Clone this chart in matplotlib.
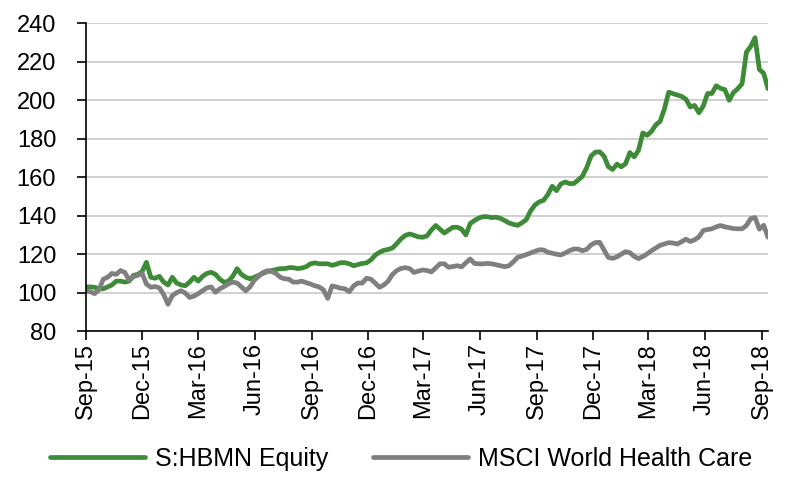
import numpy as np
import pandas as pd
import matplotlib
matplotlib.use("Agg")
import matplotlib.pyplot as plt
import matplotlib.dates as mdates

plt.rcParams["font.family"] = ["Liberation Sans", "DejaVu Sans"]

# weekly observations, indexed to 100
start_date = "2015-09-15"
hbmn = [
    103, 103, 102.8, 102, 102, 103, 104, 106, 106, 105.5,
    106, 109, 109.5, 111, 115.8, 108, 107.5, 108.5, 105.5, 104,
    108, 105, 104, 103.6, 105.5, 108, 106, 108.5, 110, 110.6,
    109.5, 107, 105.4, 106, 108.5, 112.5, 109.5, 108, 107.2, 108,
    109, 110, 111, 111.5, 112, 112.5, 112.5, 113, 113, 112.5,
    112.8, 113.5, 115, 115.5, 115, 115, 115, 114.2, 114.8, 115.6,
    115.6, 115, 114, 114.6, 115.2, 115.5, 117, 119.5, 121, 122,
    122.5, 123.2, 125.5, 128, 129.8, 130.5, 129.8, 129, 128.8, 129.5,
    132.5, 134.9, 133, 131, 132.5, 134, 134, 133, 130, 135.9,
    137.5, 138.8, 139.5, 139.5, 139, 139.2, 138.6, 137.5, 136.2, 135.5,
    135, 136.3, 138, 142.5, 145.5, 147.2, 148, 151, 155.3, 153,
    156.5, 157.5, 156.7, 156.7, 158.5, 160.5, 165, 171, 173, 173.2,
    171, 165.5, 164, 166.8, 165.4, 167, 172.8, 170.6, 174, 183,
    181.8, 183.8, 187.2, 189, 195.5, 204.2, 203.4, 202.7, 202, 200.5,
    196.5, 197.3, 193.5, 197, 203.5, 203.5, 207.5, 206.2, 205.5, 200,
    204, 206, 208.6, 225, 228, 232.5, 216, 214, 206,
]
msci_hc = [
    101, 100.5, 99.5, 101.5, 107, 108, 110, 109.5, 111.5, 110.5,
    106.5, 108.3, 109, 110, 104.5, 102.8, 103.2, 102.5, 99, 94,
    98.5, 100, 101, 99.8, 97.5, 98.2, 99.5, 101, 102.5, 103,
    100.2, 102, 103.2, 104.6, 105.5, 105, 103, 101, 103, 106.5,
    108.5, 110.5, 111.4, 111, 110, 108, 107.2, 107, 105.5, 105.5,
    106, 105.2, 104.5, 103.6, 103, 101.5, 97, 103.5, 103, 102.3,
    102, 100.5, 103.5, 105, 105, 107.5, 107, 105, 102.8, 104,
    106, 109.5, 111.5, 112.6, 113, 112.5, 110.5, 111.2, 111.8, 111.5,
    110.8, 112.8, 115, 115, 113.2, 113.6, 114, 113.4, 115.5, 117.5,
    115.2, 115, 115, 115.2, 115, 114.5, 114, 113.5, 114, 116,
    118.4, 119, 119.8, 120.6, 121.5, 122.3, 122.2, 121, 120.5, 120,
    119.6, 120.6, 121.8, 122.7, 122.7, 121.8, 122.5, 124.8, 126, 126.2,
    122.3, 118.3, 117.8, 118.6, 120, 121.3, 120.8, 118.8, 117.7, 118.8,
    120.2, 121.8, 123.2, 124.6, 125.3, 126, 125.8, 125.3, 126.5, 127.8,
    126.6, 127.5, 129, 132.3, 132.8, 133.2, 134.2, 134.9, 134.2, 133.8,
    133.3, 133.2, 133.2, 134.9, 138.5, 139, 133, 135, 128.8,
]
dates = pd.date_range(start_date, periods=len(hbmn), freq="7D")
tick_dates = pd.date_range("2015-09-01", "2018-09-01", freq="3MS") + pd.Timedelta(days=14)

fig, ax = plt.subplots(figsize=(8, 4.95), dpi=100)
fig.subplots_adjust(left=0.1075, right=0.96, bottom=0.331, top=0.953)

ax.plot(dates, hbmn, color="#3d8b37", lw=3.4, label="S:HBMN Equity", solid_capstyle="round")
ax.plot(dates, msci_hc, color="#7f7f7f", lw=3.4, label="MSCI World Health Care", solid_capstyle="round")

ax.set_ylim(80, 240)
ax.set_yticks(np.arange(80, 241, 20))
ax.set_xlim(dates[0], dates[-1])
ax.set_xticks(tick_dates)
ax.xaxis.set_major_formatter(mdates.DateFormatter("%b-%y"))
ax.grid(axis="y", color="#c8c8c8", lw=1.2)
ax.set_axisbelow(True)

for s in ["top", "right"]:
    ax.spines[s].set_visible(False)
for s in ["left", "bottom"]:
    ax.spines[s].set_linewidth(1.2)
ax.tick_params(axis="both", direction="out", length=6.5, width=1.2, labelsize=17)
ax.tick_params(axis="y", pad=15)
ax.tick_params(axis="x", pad=2, labelrotation=90)

fig.legend(
    loc="center",
    bbox_to_anchor=(0.501, 0.073),
    ncol=2,
    frameon=False,
    fontsize=18,
    handlelength=3.8,
    handletextpad=0.4,
    columnspacing=1.8,
)

plt.savefig("out.png", dpi=100)
